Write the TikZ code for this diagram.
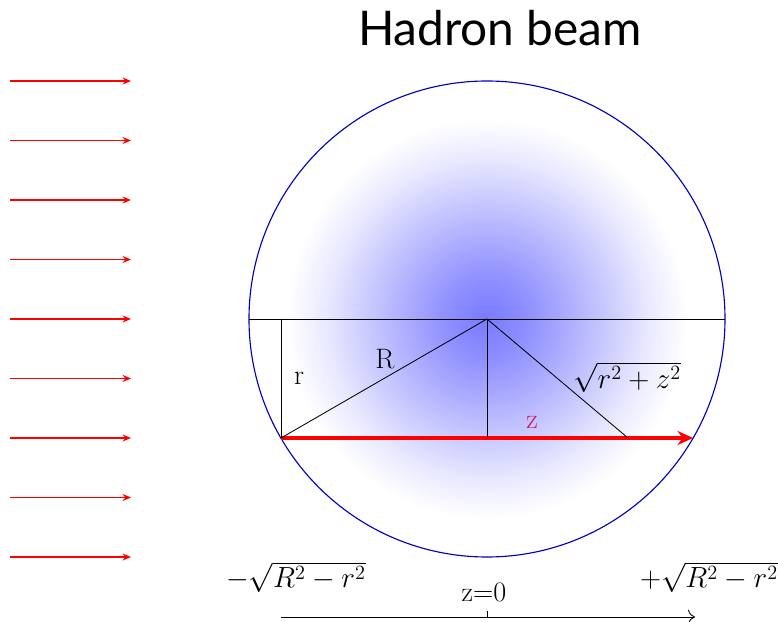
\documentclass[tikz,border=0pt]{standalone}
\usepackage{fontspec}
\newfontfamily\titlefont{Lato}
\usetikzlibrary{arrows.meta}
\definecolor{zred}{RGB}{200,25,80}
\pgfdeclareradialshading{glow}{\pgfpoint{0bp}{0bp}}{%
    color(0bp)=(blue!52); color(5bp)=(blue!44); color(12bp)=(blue!28);
    color(20bp)=(blue!9); color(25bp)=(white); color(50bp)=(white)}
\begin{document}
\begin{tikzpicture}[
    x=0.025cm, y=-0.025cm,
    beam/.style={red, line width=1pt, -{Stealth[length=6pt, width=5pt]}},
    guide/.style={black, line width=0.6pt},
    lbl/.style={font=\fontsize{20}{24}\selectfont, inner sep=0pt}
]
    \useasboundingbox (0,0) rectangle (778,622);

    % title
    \node[font=\titlefont\fontsize{34}{40}\selectfont] (title) at (500,28) {Hadron beam};

    % incoming beam
    \foreach \i in {0,...,8} {
        \coordinate (in\i) at (10,{81+59.5*\i});
        \coordinate (out\i) at (131,{81+59.5*\i});
        \draw[beam] (in\i) -- (out\i);
    }

    % nucleus
    \coordinate (O) at (487,319);
    \shade[shading=glow] (O) circle (200);
    \draw[blue!75!black, line width=0.8pt] (O) circle (238);

    \coordinate (W) at (249,319);
    \coordinate (E) at (725,319);
    \coordinate (T) at (281,319);
    \coordinate (A) at (281,438);
    \coordinate (B) at (487,438);
    \coordinate (C) at (628,438);
    \coordinate (D) at (693,438);

    \draw[red, line width=2.6pt, -{Stealth[length=11pt, width=10pt]}] (A) -- (D);
    \draw[guide] (W) -- (E);
    \draw[guide] (T) -- (A);
    \draw[guide] (O) -- (B);
    \draw[guide] (A) -- (O) -- (C);

    % labels
    \node[lbl] (rlab) at (299,378) {r};
    \node[lbl] (Rlab) at (385,359) {R};
    \node[lbl, anchor=west] (hyp) at (573,377) {$\sqrt{r^2+z^2}$};
    \node[lbl, text=zred] (zlab) at (532,422) {z};

    % axis
    \coordinate (ax0) at (281,617);
    \coordinate (ax1) at (695,617);
    \coordinate (tk) at (487,611);
    \draw[guide, -{To[length=5pt]}] (ax0) -- (ax1);
    \draw[guide] (B |- ax0) -- (tk);
    \node[lbl, anchor=base] (zmin) at (296,588) {$-\sqrt{R^2-r^2}$};
    \node[lbl, anchor=base] (zzero) at (484,602) {z=0};
    \node[lbl, anchor=base] (zmax) at (709,588) {$+\sqrt{R^2-r^2}$};
\end{tikzpicture}
\end{document}
